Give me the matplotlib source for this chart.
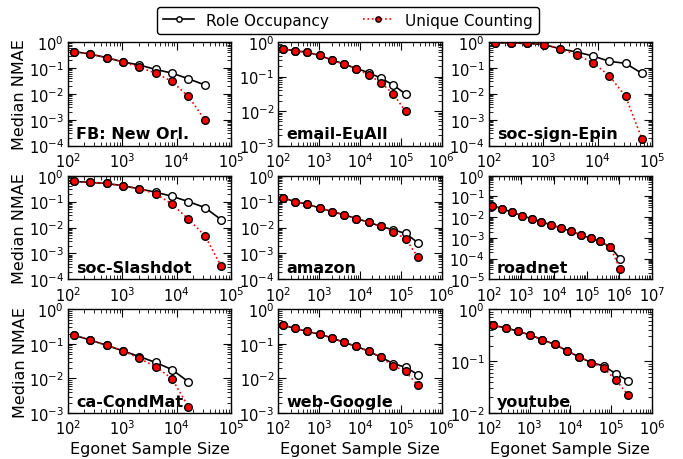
import matplotlib
matplotlib.use("Agg")
import matplotlib.pyplot as plt
from matplotlib.ticker import LogLocator, NullFormatter

# egonet sample sizes are powers of two starting at 128
def sizes(n):
    return [2 ** (7 + i) for i in range(n)]

names = ["FB: New Orl.", "email-EuAll", "soc-sign-Epin",
         "soc-Slashdot", "amazon", "roadnet",
         "ca-CondMat", "web-Google", "youtube"]

role = [
    [0.43, 0.34, 0.25, 0.17, 0.13, 0.087, 0.063, 0.038, 0.022],
    [0.63, 0.56, 0.50, 0.41, 0.30, 0.23, 0.17, 0.13, 0.089, 0.057, 0.031],
    [0.93, 0.92, 0.88, 0.80, 0.55, 0.41, 0.29, 0.18, 0.15, 0.061],
    [0.60, 0.55, 0.50, 0.41, 0.31, 0.23, 0.16, 0.10, 0.059, 0.020],
    [0.14, 0.10, 0.079, 0.057, 0.041, 0.031, 0.022, 0.016, 0.011, 0.0081, 0.0059, 0.0026],
    [0.035, 0.026, 0.017, 0.012, 0.0083, 0.0060, 0.0042, 0.0030, 0.0021, 0.0014,
     0.00096, 0.00067, 0.00036, 0.00010],
    [0.18, 0.13, 0.091, 0.063, 0.043, 0.029, 0.018, 0.008],
    [0.35, 0.28, 0.23, 0.19, 0.15, 0.11, 0.085, 0.061, 0.041, 0.027, 0.021, 0.013],
    [0.49, 0.44, 0.38, 0.32, 0.26, 0.21, 0.16, 0.12, 0.094, 0.081, 0.057, 0.042],
]

unique = [
    [0.43, 0.34, 0.25, 0.17, 0.105, 0.063, 0.030, 0.0079, 0.0010],
    [0.63, 0.56, 0.50, 0.41, 0.30, 0.23, 0.17, 0.11, 0.067, 0.031, 0.0098],
    [0.93, 0.92, 0.88, 0.80, 0.55, 0.32, 0.16, 0.05, 0.0079, 0.00018],
    [0.60, 0.55, 0.50, 0.41, 0.31, 0.20, 0.08, 0.021, 0.0049, 0.00032],
    [0.14, 0.10, 0.079, 0.057, 0.041, 0.031, 0.022, 0.016, 0.011, 0.0070, 0.0036, 0.00074],
    [0.035, 0.026, 0.017, 0.012, 0.0083, 0.0060, 0.0042, 0.0030, 0.0021, 0.0014,
     0.00096, 0.00067, 0.00036, 0.000032],
    [0.18, 0.13, 0.091, 0.063, 0.038, 0.022, 0.0098, 0.0015],
    [0.35, 0.28, 0.23, 0.19, 0.15, 0.11, 0.085, 0.061, 0.041, 0.023, 0.016, 0.0063],
    [0.49, 0.44, 0.38, 0.32, 0.26, 0.21, 0.16, 0.12, 0.094, 0.074, 0.043, 0.022],
]

xmax = [1e5, 1e6, 1e5, 1e5, 1e6, 1e7, 1e5, 1e6, 1e6]
ymin = [1e-4, 1e-3, 1e-4, 1e-4, 1e-4, 1e-5, 1e-3, 1e-3, 1e-2]

plt.rcParams.update({
    "font.size": 11,
    "xtick.labelsize": 10.5,
    "ytick.labelsize": 10.5,
    "xtick.direction": "in",
    "ytick.direction": "in",
    "xtick.top": True,
    "ytick.right": True,
    "xtick.major.size": 6,
    "ytick.major.size": 6,
    "xtick.minor.size": 3,
    "ytick.minor.size": 3,
    "xtick.major.pad": 4,
    "ytick.major.pad": 3,
    "axes.linewidth": 1.0,
})

fig, axes = plt.subplots(3, 3, figsize=(6.83, 4.6), dpi=100)
fig.subplots_adjust(left=0.0996, right=0.9546, bottom=0.10, top=0.9065,
                    wspace=0.29, hspace=0.29)

for i, ax in enumerate(axes.flat):
    x = sizes(len(role[i]))
    h1, = ax.plot(x, role[i], "-o", color="black", mfc="white", mec="black",
                  ms=5.5, lw=1.2, label="Role Occupancy")
    h2, = ax.plot(x, unique[i], ":o", color="red", mfc="red", mec="black",
                  ms=5.5, lw=1.2, label="Unique Counting")
    ax.set_xscale("log")
    ax.set_yscale("log")
    ax.set_xlim(1e2, xmax[i])
    ax.set_ylim(ymin[i], 1e0)
    for axis in (ax.xaxis, ax.yaxis):
        axis.set_major_locator(LogLocator(base=10, numticks=20))
        axis.set_minor_locator(LogLocator(base=10, subs=range(2, 10), numticks=20))
        axis.set_minor_formatter(NullFormatter())
    ax.text(0.05, 0.04, names[i], transform=ax.transAxes,
            fontsize=11.5, fontweight="bold", ha="left", va="bottom")
    if i % 3 == 0:
        ax.set_ylabel("Median NMAE", fontsize=11.5, labelpad=1)
    if i >= 6:
        ax.set_xlabel("Egonet Sample Size", fontsize=11.5, labelpad=3)

fig.legend([h1, h2], ["Role Occupancy", "Unique Counting"],
           loc="upper center", bbox_to_anchor=(0.51, 1.0), ncol=2,
           fontsize=11, markerscale=0.7, handlelength=2.0, columnspacing=2.2,
           fancybox=True, framealpha=1.0, edgecolor="black")

fig.savefig("out.png", dpi=100)
